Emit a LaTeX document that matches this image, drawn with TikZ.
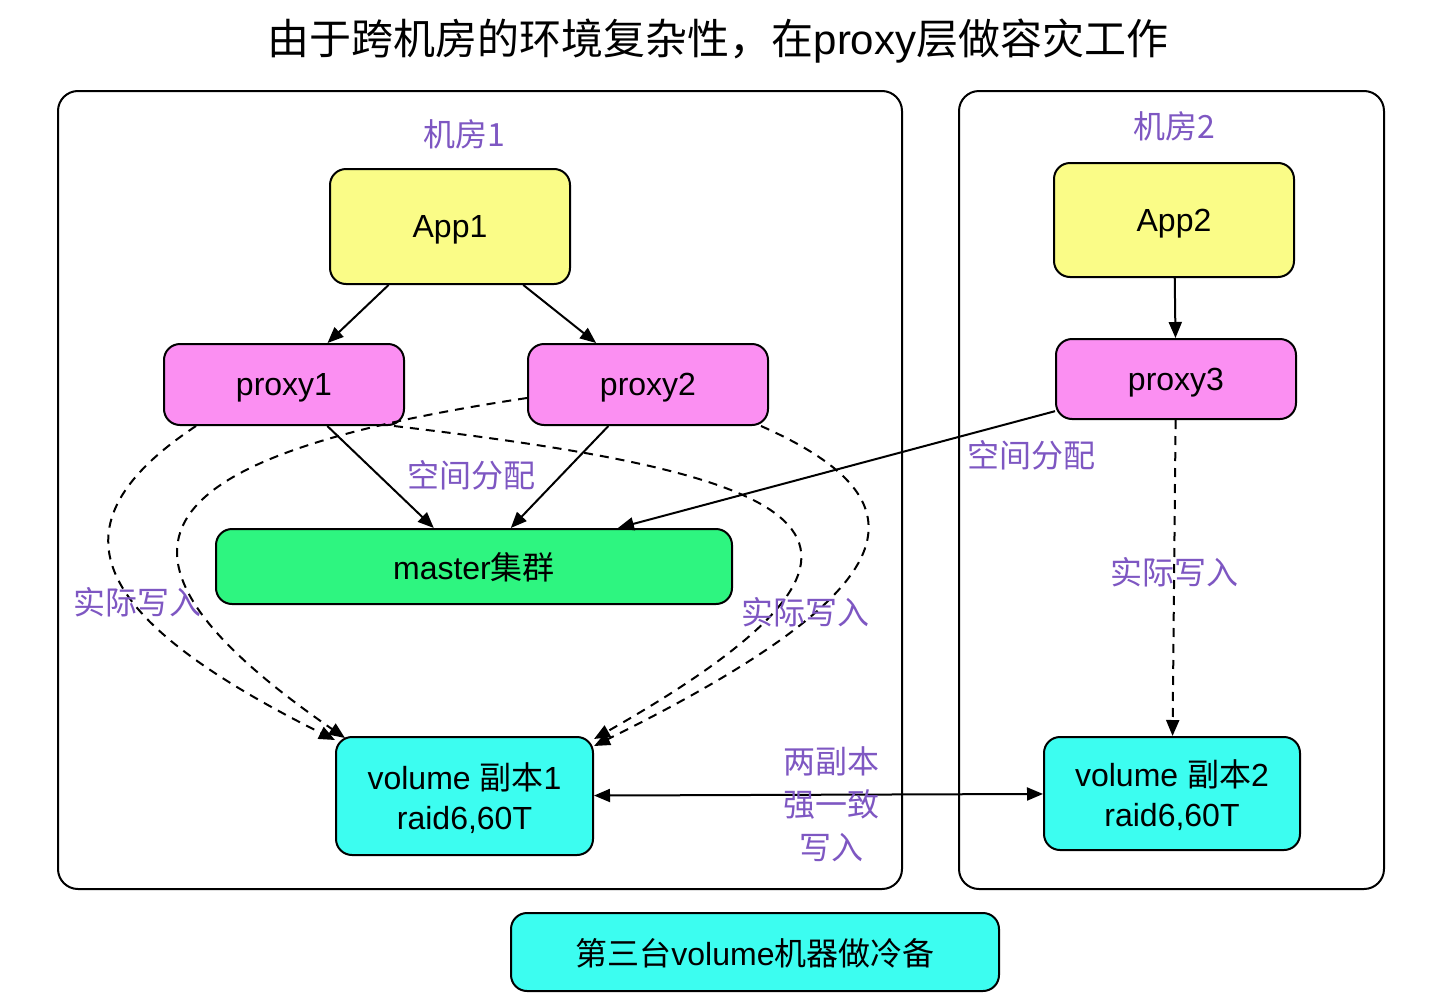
\documentclass[tikz,border=0pt]{standalone}
\usepackage{fontspec}
\setmainfont{Liberation Sans}
\newfontfamily\cjkfont{Noto Sans CJK SC}
\usepackage{xcolor}
\usepackage{tikz}
\usetikzlibrary{positioning,calc,arrows.meta}

\definecolor{appyellow}{HTML}{FAFC87}
\definecolor{proxypink}{HTML}{FB8FF2}
\definecolor{mastergreen}{HTML}{2EF580}
\definecolor{volcyan}{HTML}{3CFDF0}
\definecolor{labelpurple}{HTML}{7E57C2}

\begin{document}
\begin{tikzpicture}[x=1pt,y=-1pt,
    box/.style={draw, line width=2pt, rounded corners=16pt, align=center, inner sep=0pt, text depth=0pt, font=\fontsize{32}{40}\selectfont},
    room/.style={draw, line width=2pt, rounded corners=20pt, inner sep=0pt},
    lbl/.style={text=labelpurple, inner sep=0pt, align=center, font=\fontsize{32}{43}\selectfont\cjkfont},
    link/.style={line width=2pt, -{Triangle[length=16pt,width=13pt]}},
    write/.style={link, dash pattern=on 9pt off 7pt}]
    \useasboundingbox (0,0) rectangle (1448,1004);

    % Title
    \node[font=\fontsize{42}{50}\selectfont] (title) at (718,41) {{\cjkfont 由于跨机房的环境复杂性，在}proxy{\cjkfont 层做容灾工作}};

    % Rooms
    \node[room, minimum width=844pt, minimum height=798pt] (room1) at (480,490) {};
    \node[room, minimum width=425pt, minimum height=798pt] (room2) at (1171.5,490) {};
    \node[lbl] (room1lbl) at (464,134) {机房1};
    \node[lbl] (room2lbl) at (1174,126) {机房2};

    % Apps
    \node[box, fill=appyellow, minimum width=240pt, minimum height=115pt] (app1) at (450,226.5) {App1};
    \node[box, fill=appyellow, minimum width=240pt, minimum height=114pt] (app2) at (1174,220) {App2};

    % Proxies
    \node[box, fill=proxypink, minimum width=240pt, minimum height=81pt] (proxy1) at (284,384.5) {proxy1};
    \node[box, fill=proxypink, minimum width=240pt, minimum height=81pt] (proxy2) at (648,384.5) {proxy2};
    \node[box, fill=proxypink, minimum width=240pt, minimum height=80pt] (proxy3) at (1176,379) {proxy3};

    % Master
    \node[box, fill=mastergreen, minimum width=516pt, minimum height=75pt] (master) at (474,566.5) {master{\cjkfont 集群}};

    % Volumes
    \node[box, fill=volcyan, minimum width=257pt, minimum height=118pt] (vol1) at (464.5,796) {volume {\cjkfont 副本}1\\raid6,60T};
    \node[box, fill=volcyan, minimum width=256pt, minimum height=113pt] (vol2) at (1172,793.5) {volume {\cjkfont 副本}2\\raid6,60T};
    \node[box, fill=volcyan, minimum width=488pt, minimum height=78pt] (cold) at (755,952) {{\cjkfont 第三台}volume{\cjkfont 机器做冷备}};

    % Solid links
    \draw[link] (app1) -- (proxy1);
    \draw[link] (app1) -- (proxy2);
    \draw[link] (app2) -- (proxy3);
    \draw[link] (proxy1) -- (master);
    \draw[link] (proxy2) -- (master);
    \draw[link] (proxy3) -- (master);
    \draw[link, {Triangle[length=16pt,width=13pt]}-{Triangle[length=16pt,width=13pt]}] (vol1) -- (vol2);

    % Dashed writes
    \draw[write] ([xshift=33pt]proxy1.south west) .. controls (47,525) and (87,616) .. ([yshift=-4pt]vol1.north west);
    \draw[write] ([yshift=-13.5pt]proxy2.west) .. controls (148,455) and (67,546) .. ([xshift=10pt,yshift=-2pt]vol1.north west);
    \draw[write] ([xshift=-11pt]proxy1.south east) .. controls (793,473) and (963,529) .. ([yshift=-3pt]vol1.north east);
    \draw[write] ([xshift=-8pt]proxy2.south east) .. controls (930,501) and (915,587) .. ([yshift=-10pt]vol1.north east);
    \draw[write] (proxy3) -- (vol2);

    % Labels
    \node[lbl] (alloc1) at (471,475) {空间分配};
    \node[lbl] (alloc2) at (1031,455) {空间分配};
    \node[lbl] (wr1) at (137,602) {实际写入};
    \node[lbl] (wr2) at (805,612) {实际写入};
    \node[lbl] (wr3) at (1174,572) {实际写入};
    \node[lbl] (sync) at (831,804) {两副本\\强一致\\写入};
\end{tikzpicture}
\end{document}
